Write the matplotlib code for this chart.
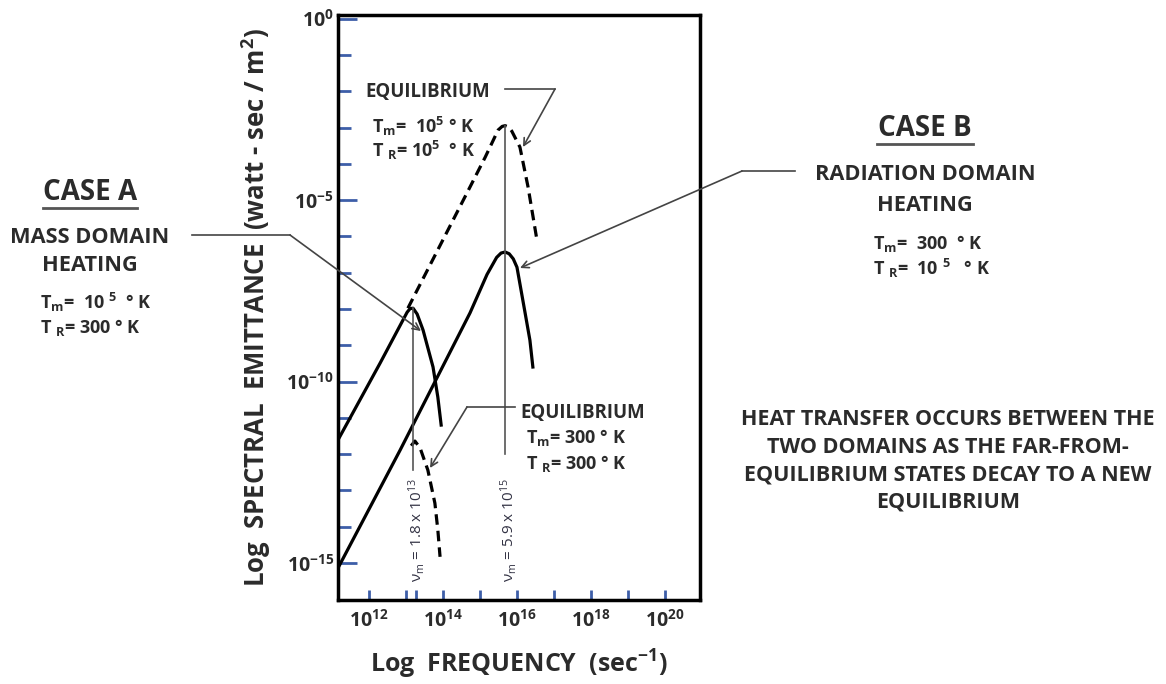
import numpy as np
import matplotlib.pyplot as plt
from matplotlib.lines import Line2D
from matplotlib.ticker import NullFormatter

plt.rcParams['font.family'] = ['Open Sans', 'DejaVu Sans']
plt.rcParams['mathtext.default'] = 'regular'

W, H = 1166, 684

# curves, as log10(frequency) and log10(spectral emittance)
case_a_lognu = [11.16, 12.30, 13.03, 13.11, 13.19, 13.30, 13.46, 13.73, 13.86, 13.95]
case_a_logS = [-11.61, -9.49, -8.09, -7.99, -7.98, -8.14, -8.58, -9.60, -10.43, -11.20]

case_b_lognu = [11.16, 12.84, 14.73, 15.19, 15.45, 15.57, 15.68, 15.79, 15.90, 16.00, 16.22, 16.35, 16.43]
case_b_logS = [-15.14, -11.89, -8.11, -7.05, -6.58, -6.46, -6.43, -6.48, -6.62, -6.85, -8.11, -8.86, -9.60]

eq_hot_lognu = [13.05, 14.73, 15.14, 15.49, 15.60, 15.68, 15.78, 15.86, 16.08, 16.30, 16.54]
eq_hot_logS = [-7.98, -4.64, -3.82, -3.07, -2.97, -2.95, -2.99, -3.10, -3.54, -4.64, -6.10]

eq_cold_lognu = [13.14, 13.24, 13.38, 13.59, 13.78, 13.86, 13.92]
eq_cold_logS = [-11.77, -11.64, -11.83, -12.44, -13.35, -14.09, -14.83]

# peak frequency markers
peak_lognu = [13.2, 15.68]
peak_top = [-7.98, -2.95]
peak_bottom = [-12.45, -12.0]
peak_labels = ['ν$_m$ = 1.8 x 10$^{13}$', 'ν$_m$ = 5.9 x 10$^{15}$']

xtick_exp = [12, 14, 16, 18, 20]
xminor_exp = [13, 13.26, 15, 17, 19]
ytick_exp = [0, -5, -10, -15]
yminor_exp = [-1, -2, -3, -4, -6, -7, -8, -9, -11, -12, -13, -14]

txt = '#2b2b2b'
blue = '#3d5ea8'

fig = plt.figure(figsize=(W / 100, H / 100), dpi=100)
ax = fig.add_axes([338 / W, 1 - 600 / H, 362 / W, 585 / H])
ax.set_xscale('log')
ax.set_yscale('log')
ax.set_xlim(10 ** 11.16, 10 ** 20.95)
ax.set_ylim(10 ** -16.02, 10 ** 0.1)

def p(lx, ly):
    return 10.0 ** np.array(lx), 10.0 ** np.array(ly)

ax.plot(*p(case_a_lognu, case_a_logS), color='black', lw=2.3)
ax.plot(*p(case_b_lognu, case_b_logS), color='black', lw=2.3)
ax.plot(*p(eq_hot_lognu, eq_hot_logS), color='black', lw=2.3, dashes=(3.3, 1.9))
ax.plot(*p(eq_cold_lognu, eq_cold_logS), color='black', lw=2.3, dashes=(3.3, 1.9))

for i in range(2):
    ax.plot([10 ** peak_lognu[i]] * 2, [10 ** peak_top[i], 10 ** peak_bottom[i]],
            color='#555555', lw=1.2)

for s in ax.spines.values():
    s.set_linewidth(2.5)

ax.set_xticks([10.0 ** e for e in xtick_exp],
              labels=['$10^{%d}$' % e for e in xtick_exp])
ax.set_xticks([10.0 ** e for e in xminor_exp], minor=True)
ax.set_yticks([10.0 ** e for e in ytick_exp],
              labels=['$10^{%d}$' % e for e in ytick_exp])
ax.set_yticks([10.0 ** e for e in yminor_exp], minor=True)
ax.xaxis.set_minor_formatter(NullFormatter())
ax.yaxis.set_minor_formatter(NullFormatter())
ax.tick_params(which='both', direction='in', color=blue, width=2,
               labelsize=14, labelcolor=txt)
ax.tick_params(axis='x', which='both', length=7, pad=7)
ax.tick_params(axis='y', which='major', length=14, pad=3)
ax.tick_params(axis='y', which='minor', length=9)
for lab in ax.get_xticklabels() + ax.get_yticklabels():
    lab.set_fontweight('bold')

ax.set_xlabel('Log  FREQUENCY  (sec$^{-1}$)', fontsize=18, fontweight='bold',
              color=txt, labelpad=12)
ax.set_ylabel('Log  SPECTRAL  EMITTANCE  (watt - sec / m$^{2}$)', fontsize=18.5,
              fontweight='bold', color=txt, labelpad=10)

for i in range(2):
    ax.text(10 ** (peak_lognu[i] + 0.08), 10 ** -14.1, peak_labels[i], rotation=90,
            ha='center', va='center', fontsize=11, color='#333344')

def ftxt(x, y, s, **kw):
    kw.setdefault('color', txt)
    kw.setdefault('va', 'center')
    fig.text(x / W, 1 - y / H, s, **kw)

def fline(xs, ys, **kw):
    fig.add_artist(Line2D([x / W for x in xs], [1 - y / H for y in ys],
                          transform=fig.transFigure, **kw))

def callout(xs, ys, tip):
    fline(xs, ys, color='#444444', lw=1.2)
    ax.annotate('', xy=(tip[0] / W, 1 - tip[1] / H), xycoords='figure fraction',
                xytext=(xs[-1] / W, 1 - ys[-1] / H), textcoords='figure fraction',
                arrowprops=dict(arrowstyle='->,head_length=0.5,head_width=0.25',
                                color='#444444', lw=1.2, shrinkA=0, shrinkB=0),
                annotation_clip=False)

big = dict(fontsize=20, fontweight='bold', ha='center')
mid = dict(fontsize=15.7, fontweight='bold', ha='center')
tt = dict(fontsize=13, fontweight='bold', ha='left')

# case A
ftxt(90, 192, 'CASE A', **big)
fline([43, 137], [208, 208], color='#555555', lw=2)
ftxt(90, 237, 'MASS DOMAIN', **mid)
ftxt(90, 266, 'HEATING', **mid)
ftxt(40, 302, 'T$_m$=  10 $^5$  ° K', **tt)
ftxt(40, 327, 'T $_R$= 300 ° K', **tt)
callout([192, 290], [235, 235], (421, 331))

# case B
ftxt(925, 129, 'CASE B', **big)
fline([877, 973], [144, 144], color='#555555', lw=2)
ftxt(925, 175, 'RADIATION DOMAIN', **mid)
ftxt(925, 205, 'HEATING', **mid)
ftxt(873, 243, 'T$_m$=  300  ° K', **tt)
ftxt(873, 268, 'T $_R$=  10 $^5$   ° K', **tt)
callout([795, 742], [171, 171], (520, 268))

# equilibrium labels
ftxt(365, 92, 'EQUILIBRIUM', fontsize=13.4, fontweight='bold', ha='left')
ftxt(372, 126, 'T$_m$=  10$^5$ ° K', **tt)
ftxt(372, 150, 'T $_R$= 10$^5$  ° K', **tt)
callout([505, 555], [89, 89], (523, 147))

ftxt(520, 413, 'EQUILIBRIUM', fontsize=13.4, fontweight='bold', ha='left')
ftxt(526, 438, 'T$_m$= 300 ° K', **tt)
ftxt(526, 463, 'T $_R$= 300 ° K', **tt)
callout([515, 467], [407, 407], (430, 468))

ftxt(948, 461, 'HEAT TRANSFER OCCURS BETWEEN THE\nTWO DOMAINS AS THE FAR-FROM-\n'
     'EQUILIBRIUM STATES DECAY TO A NEW\nEQUILIBRIUM',
     fontsize=15.5, fontweight='bold', ha='center', linespacing=1.4)

fig.savefig('out.png', dpi=100)
